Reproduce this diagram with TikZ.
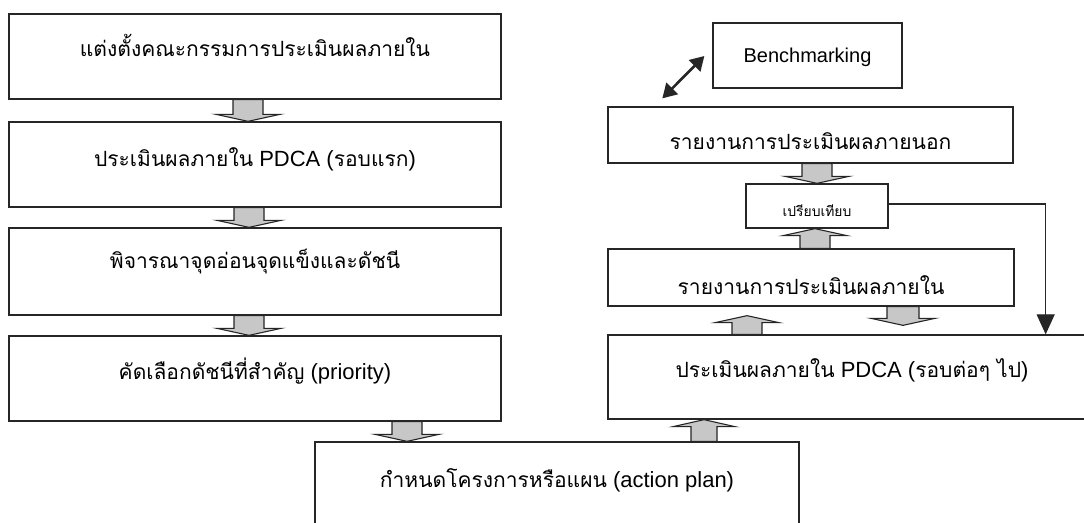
\documentclass[tikz,border=0pt]{standalone}
\usepackage{fontspec}
\setmainfont{Liberation Sans}
\newfontfamily\thai[Script=Thai, Scale=0.955]{Loma}
\usetikzlibrary{calc,arrows.meta}
\tikzset{
  box/.style={draw=black!85, line width=1.3pt, fill=white, inner sep=0pt, minimum width=#1},
  txt/.style={anchor=base, inner sep=0pt, font=\fontsize{22}{26}\selectfont},
  gblock/.style={draw=black!85, line width=1.1pt, fill=black!22, line join=miter},
  conn/.style={draw=black!85, line width=1.2pt},
}
% #1 base, #2 tip, #3 stem half width, #4 head half width, #5 offset of head wings from tip
\newcommand\garrow[5]{%
  \draw[gblock] ($(#1)+(-#3,0)$) -- ($(#2)+(-#3,#5)$) -- ($(#2)+(-#4,#5)$) -- (#2)
    -- ($(#2)+(#4,#5)$) -- ($(#2)+(#3,#5)$) -- ($(#1)+(#3,0)$) -- cycle;}
\begin{document}
\begin{tikzpicture}[x=1pt,y=-1pt]
\clip (0,0) rectangle (1084,522);
\fill[white] (0,0) rectangle (1084,522);
% left column
\node[box=492, minimum height=85] (b1) at (255,56.5) {};
\node[txt] (t1) at ($(b1.north)+(0,43)$) {\thai แต่งตั้งคณะกรรมการประเมินผลภายใน};
\node[box=492, minimum height=85] (b2) at (255,164.5) {};
\node[txt] (t2) at ($(b2.north)+(0,45)$) {{\thai ประเมินผลภายใน} PDCA ({\thai รอบแรก})};
\node[box=492, minimum height=87] (b3) at (255,271.5) {};
\node[txt] (t3) at ($(b3.north)+(0,41)$) {\thai พิจารณาจุดอ่อนจุดแข็งและดัชนี};
\node[box=492, minimum height=85] (b4) at (255,378.5) {};
\node[txt] (t4) at ($(b4.north)+(0,44)$) {{\thai คัดเลือกดัชนีที่สำคัญ} (priority)};
% bottom box
\node[box=484, minimum height=85] (ac) at (557,484.5) {};
\node[txt] (t5) at ($(ac.north)+(0,46)$) {{\thai กำหนดโครงการหรือแผน} (action plan)};
% right column
\node[box=189, minimum height=65] (bm) at (807.5,55.5) {};
\node[txt, font=\fontsize{20}{24}\selectfont] (t6) at ($(bm.north)+(0,40)$) {Benchmarking};
\node[box=405, minimum height=56] (ex) at (810.5,135) {};
\node[txt] (t7) at ($(ex.north)+(0,43)$) {\thai รายงานการประเมินผลภายนอก};
\node[box=142, minimum height=44] (sm) at (817,206) {};
\node[txt, font=\fontsize{14.5}{17}\selectfont] (t8) at ($(sm.north)+(0,33)$) {\thai เปรียบเทียบ};
\node[box=406, minimum height=57] (in) at (811,277.5) {};
\node[txt] (t9) at ($(in.north)+(0,46)$) {\thai รายงานการประเมินผลภายใน};
\node[box=488, minimum height=84] (pd) at (852,377) {};
\node[txt] (t10) at ($(pd.north)+(0,43)$) {{\thai ประเมินผลภายใน} PDCA ({\thai รอบต่อๆ ไป})};
% block arrows
\coordinate (g1) at ($(b1.south)+(-7,0)$);
\garrow{g1}{g1 |- b2.north}{15}{32}{-7}
\coordinate (g2) at ($(b2.south)+(-6,0)$);
\garrow{g2}{g2 |- b3.north}{15}{32}{-7}
\coordinate (g3) at ($(b3.south)+(-6,0)$);
\garrow{g3}{g3 |- b4.north}{15}{32}{-7}
\coordinate (g4) at ($(b4.south)+(152,0)$);
\garrow{g4}{g4 |- ac.north}{15}{32}{-7}
\coordinate (g5) at ($(ex.south)+(6.5,0)$);
\garrow{g5}{g5 |- sm.north}{15}{32}{-7}
\coordinate (g6) at ($(in.north)+(4,0)$);
\garrow{g6}{g6 |- sm.south}{15}{32}{7}
\coordinate (g7) at ($(pd.north)+(-105,0)$);
\coordinate (g7t) at ($(g7 |- in.south)+(0,9)$);
\garrow{g7}{g7t}{15}{32}{7}
\coordinate (g8) at ($(in.south)+(92,0)$);
\coordinate (g8t) at ($(g8 |- pd.north)+(0,-9)$);
\garrow{g8}{g8t}{16}{32}{-7}
\coordinate (g9) at ($(ac.north)+(147,0)$);
\garrow{g9}{g9 |- pd.south}{13}{31}{7}
% double arrow to Benchmarking
\coordinate (d1) at ($(ex.north west)+(55,-8)$);
\coordinate (d2) at ($(bm.west)+(-8,0.5)$);
\draw[draw=black!85, line width=2.6pt, {Triangle[length=14pt,width=16pt]}-{Triangle[length=14pt,width=16pt]}] (d1) -- (d2);
% feedback line
\coordinate (s1) at ($(sm.east)+(0,-2)$);
\coordinate (r1) at ($(s1)+(157,0)$);
\draw[conn, -{Triangle[length=20pt,width=18pt]}] (s1) -- (r1) -- (r1 |- pd.north);
\end{tikzpicture}
\end{document}
